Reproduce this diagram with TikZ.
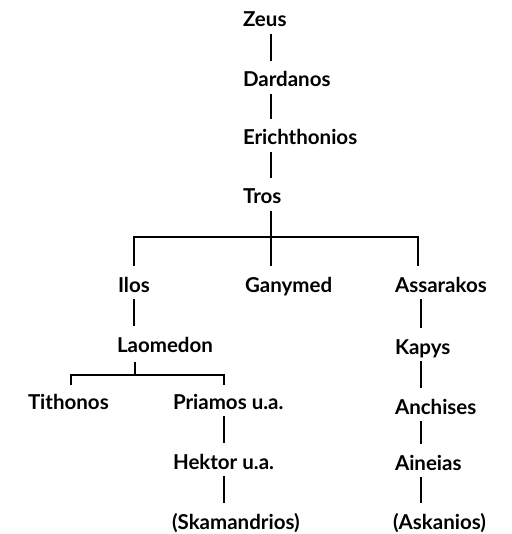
\documentclass[tikz,border=0pt]{standalone}
\usepackage{fontspec}
\setmainfont{Lato}
\begin{document}
\begin{tikzpicture}[x=1pt,y=-1pt,
  person/.style={anchor=base west,inner sep=0pt,outer sep=0pt,text height=15pt,text depth=4pt,font=\fontsize{20.5}{22}\selectfont\bfseries},
  link/.style={line width=1.6pt,shorten <=3pt,shorten >=11pt}]
\useasboundingbox (0,0) rectangle (511,534);
% names
\node[person] (zeus) at (243,27) {Zeus};
\node[person] (dardanos) at (243,87) {Dardanos};
\node[person] (erich) at (243,145) {Erichthonios};
\node[person] (tros) at (243,204) {Tros};
\node[person] (ilos) at (118,292) {Ilos};
\node[person] (ganymed) at (245,292) {Ganymed};
\node[person] (assarakos) at (395,292) {Assarakos};
\node[person] (laomedon) at (117,352) {Laomedon};
\node[person] (tithonos) at (28,409) {Tithonos};
\node[person] (priamos) at (173,409) {Priamos u.a.};
\node[person] (hektor) at (173,469) {Hektor u.a.};
\node[person] (skam) at (172,529) {(Skamandrios)};
\node[person] (kapys) at (395,354) {Kapys};
\node[person] (anchises) at (395,414) {Anchises};
\node[person] (aineias) at (395,470) {Aineias};
\node[person] (askanios) at (393,529) {(Askanios)};
% connector columns and junctions
\coordinate (xa) at (271,0);
\coordinate (xi) at (134,0);
\coordinate (xs) at (418,0);
\coordinate (xk) at (421,0);
\coordinate (xt) at (71,0);
\coordinate (xp) at (224,0);
\coordinate (j1) at (271,237);
\coordinate (j2) at (135,375);
% connectors
\draw[link] (zeus.south -| xa) -- (dardanos.north -| xa);
\draw[link] (dardanos.south -| xa) -- (erich.north -| xa);
\draw[link] (erich.south -| xa) -- (tros.north -| xa);
\draw[link,shorten >=0pt] (tros.south -| xa) -- (j1);
\draw[link,shorten <=0pt] (j1) -- (ganymed.north -| xa);
\draw[link,shorten <=11pt] (ilos.north -| xi) |- (j1) -| (assarakos.north -| xs);
\draw[link] (ilos.south -| xi) -- (laomedon.north -| xi);
\draw[link,shorten <=6pt,shorten >=0pt] (laomedon.south -| j2) -- (j2);
\draw[link,shorten <=9pt,shorten >=9pt] (tithonos.north -| xt) |- (j2) -| (priamos.north -| xp);
\draw[link] (priamos.south -| xp) -- (hektor.north -| xp);
\draw[link] (hektor.south -| xp) -- (skam.north -| xp);
\draw[link] (assarakos.south -| xk) -- (kapys.north -| xk);
\draw[link] (kapys.south -| xk) -- (anchises.north -| xk);
\draw[link] (anchises.south -| xk) -- (aineias.north -| xk);
\draw[link] (aineias.south -| xk) -- (askanios.north -| xk);
\end{tikzpicture}
\end{document}
